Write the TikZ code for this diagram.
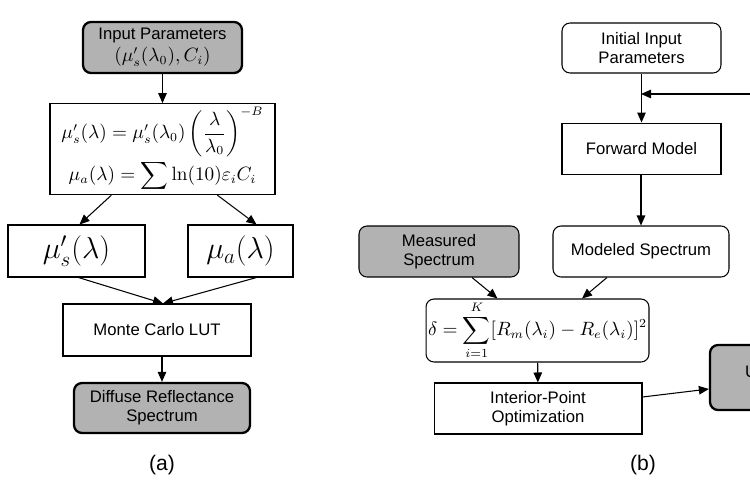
\documentclass[tikz,border=0pt]{standalone}
\usepackage{amsmath}
\usepackage[no-math]{fontspec}
\setmainfont{Liberation Sans}
\usepackage{tikz}
\usetikzlibrary{positioning, calc, arrows.meta}
\definecolor{boxgray}{rgb}{0.70, 0.70, 0.70}
\newcommand{\mathtxt}[1]{{\fontsize{10.5}{12}\selectfont$#1$}}

\begin{document}
\begin{tikzpicture}[x=0.02cm, y=-0.02cm, font=\fontsize{9.5}{11}\selectfont]
		\tikzstyle{plainbox}=[draw=black, line width=0.6pt, fill=white, align=center, inner sep=0pt]
		\tikzstyle{roundbox}=[plainbox, rounded corners=1.6mm]
		\tikzstyle{graybox}=[roundbox, fill=boxgray]
		\tikzstyle{boldbox}=[graybox, line width=1.3pt]
		\tikzstyle{arr}=[line width=0.6pt, -{Triangle[length=2mm, width=1.7mm]}]
		\useasboundingbox (0,0) rectangle (750,500);
		
		%% (a) forward model
		\node (inpar) at (162.5,47.5) [boldbox, minimum width=3.18cm, minimum height=1.02cm] {Input Parameters\\[1.5pt]\mathtxt{(\mu_s'(\lambda_0),C_i)}};
		\node [below=0.58cm of inpar, plainbox, minimum width=4.5cm, minimum height=1.82cm](eqs) {\mathtxt{\mu_s'(\lambda)=\mu_s'(\lambda_0)\left(\dfrac{\lambda}{\lambda_0}\right)^{-B}}\\[1pt]\mathtxt{\mu_a(\lambda)=\displaystyle\sum\ln(10)\varepsilon_i C_i}};
		\node (musp) at (76.5,251) [plainbox, minimum width=2.74cm, minimum height=1.04cm] {\fontsize{16.5}{20}\selectfont$\mu_s'(\lambda)$};
		\node (mua) at (240.5,251) [plainbox, minimum width=2.1cm, minimum height=1.04cm] {\fontsize{16.5}{20}\selectfont$\mu_a(\lambda)$};
		\node (mclut) at (157,330) [plainbox, minimum width=3.76cm, minimum height=1.04cm] {Monte Carlo LUT};
		\node (drs) at (162,408) [boldbox, minimum width=3.52cm, minimum height=1.0cm] {Diffuse Reflectance\\Spectrum};
		\node (laba) at (162,465) {\fontsize{12}{14}\selectfont(a)};
		
		\draw [arr] (inpar) -- (eqs);
		\draw [arr] (eqs.222) -- ($(musp.north)+(3,0)$);
		\draw [arr] (eqs.320.7) -- ($(mua.north)+(16,0)$);
		\draw [arr] ($(musp.south)+(2,0)$) -- ($(mclut.north)+(6,0)$);
		\draw [arr] ($(mua.south)+(16,0)$) -- ($(mclut.north)+(6,0)$);
		\draw [arr] (drs.north |- mclut.south) -- (drs.north);
		
		%% (b) inverse model
		\node (init) at (641.5,48) [roundbox, minimum width=3.18cm, minimum height=1.0cm] {Initial Input\\Parameters};
		\node [below=0.98cm of init, plainbox, minimum width=3.18cm, minimum height=1.02cm](fwd) {Forward Model};
		\node (mod) at (641,251.5) [roundbox, minimum width=3.52cm, minimum height=1.02cm] {Modeled Spectrum};
		\node (meas) at (439,251.5) [graybox, minimum width=3.2cm, minimum height=1.02cm] {Measured\\Spectrum};
		\node (cost) at (537.5,330.5) [roundbox, minimum width=4.46cm, minimum height=1.26cm] {\mathtxt{\delta=\displaystyle\sum_{i=1}^{K}[R_m(\lambda_i)-R_e(\lambda_i)]^2}};
		\node (ipo) at (538,408.5) [plainbox, minimum width=4.16cm, minimum height=1.02cm] {Interior-Point\\Optimization};
		\node (upd) at (790,377.5) [boldbox, minimum width=3.2cm, minimum height=1.3cm] {};
		\node [anchor=west] (updtxt) at (739,372) {U};
		\node (labb) at (643,465) {\fontsize{12}{14}\selectfont(b)};
		\coordinate (fbin) at (641,94);
		
		\draw [arr] (init) -- (fwd);
		\draw [arr] (upd.north) |- (fbin);
		\draw [arr] (fwd.south -| mod.north) -- (mod.north);
		\draw [arr] ($(meas.south)+(33,0)$) -- ($(cost.north)+(-40,0)$);
		\draw [arr] ($(mod.south)+(-34,0)$) -- ($(cost.north)+(44.5,0)$);
		\draw [arr] (cost) -- (ipo);
		\draw [arr] ($(ipo.east)+(0,-11.5)$) -- ($(upd.west)+(0,11.5)$);
\end{tikzpicture}
\end{document}
